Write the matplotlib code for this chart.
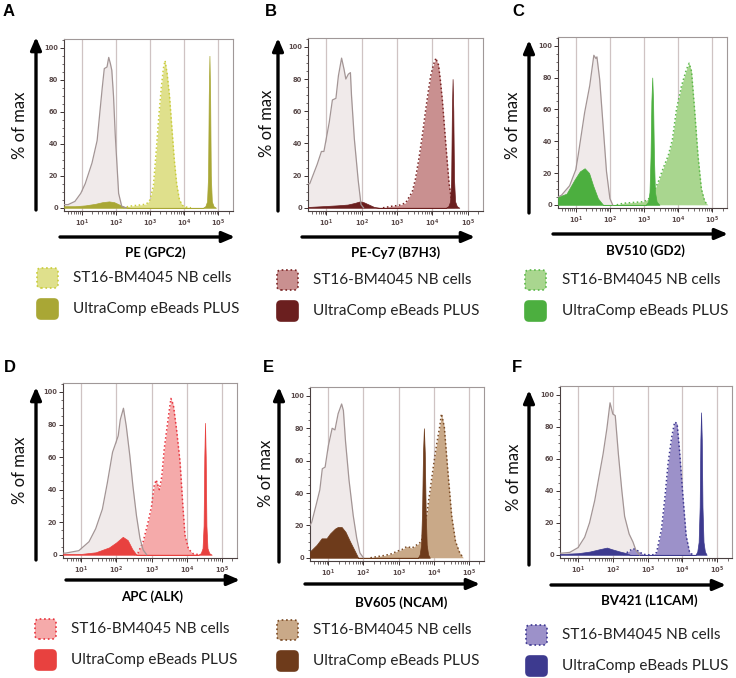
import matplotlib
matplotlib.use('Agg')
import matplotlib.pyplot as plt
import numpy as np
from matplotlib.patches import FancyBboxPatch
from matplotlib.ticker import FixedLocator, MultipleLocator, LogLocator, NullFormatter

W, H = 736, 678

# histogram outlines, x = log10(fluorescence), y = % of max
a_grey_x = [0.48, 0.6, 0.8, 0.97, 1.1, 1.3, 1.45, 1.6, 1.66, 1.74, 1.79, 1.84, 1.88, 1.93, 1.98, 2.08, 2.17, 2.3]
a_grey_y = [2, 2, 4, 9, 15, 28, 42, 75, 87, 88, 94, 90, 86, 70, 46, 9, 1, 0]
a_nb_x = [2.2, 2.4, 2.6, 2.8, 2.9, 3.0, 3.1, 3.18, 3.26, 3.33, 3.39, 3.44, 3.5, 3.57, 3.64, 3.71, 3.78, 3.86, 3.95, 4.05, 4.2]
a_nb_y = [0, 1, 1.5, 2, 2.5, 5, 14, 35, 58, 75, 87, 92, 84, 70, 50, 30, 15, 5, 1.5, 0.5, 0]
a_bead_x = [0.48, 0.8, 1.1, 1.4, 1.6, 1.8, 1.95, 2.1, 2.25, 2.4,
            4.55, 4.62, 4.67, 4.7, 4.72, 4.74, 4.76, 4.78, 4.81, 4.86, 4.93]
a_bead_y = [1, 1, 1.5, 2.5, 3.5, 4, 3.5, 2, 0.5, 0,
            0, 1, 4, 20, 70, 95, 70, 20, 4, 1, 0]

b_grey_x = [0.48, 0.53, 0.74, 0.86, 0.93, 1.08, 1.17, 1.27, 1.34, 1.43, 1.5, 1.55, 1.62, 1.68, 1.71, 1.79, 1.9, 1.98, 2.05]
b_grey_y = [15, 15, 27, 35, 35, 53, 67, 68, 82, 93, 86, 80, 83, 84, 70, 43, 17, 2, 0]
b_nb_x = [2.6, 2.86, 3.05, 3.24, 3.43, 3.52, 3.62, 3.72, 3.81, 3.88, 3.95, 4.03, 4.1, 4.14, 4.17, 4.22, 4.28, 4.38, 4.47, 4.55, 4.62]
b_nb_y = [0, 1, 1.5, 3, 10, 18, 31, 46, 61, 72, 82, 89, 93, 90, 89, 80, 67, 39, 15, 3, 0]
b_bead_x = [0.48, 0.9, 1.3, 1.6, 1.8, 1.95, 2.05, 2.2, 2.35, 2.5,
            4.38, 4.45, 4.5, 4.53, 4.55, 4.57, 4.59, 4.61, 4.64, 4.69, 4.76]
b_bead_y = [0.5, 1, 1.5, 2, 3, 4, 3.5, 2, 0.5, 0,
            0, 1, 4, 18, 60, 80, 60, 18, 4, 1, 0]

c_grey_x = [0.48, 0.58, 0.82, 1.0, 1.07, 1.26, 1.41, 1.53, 1.59, 1.62, 1.7, 1.8, 1.9, 2.0, 2.08]
c_grey_y = [5, 6, 12, 22, 31, 58, 75, 94, 92, 93, 79, 50, 21, 4, 0]
c_nb_x = [2.2, 2.4, 2.7, 3.0, 3.15, 3.27, 3.41, 3.56, 3.71, 3.83, 3.95, 4.1, 4.24, 4.32, 4.39, 4.48, 4.58, 4.68, 4.78, 4.87]
c_nb_y = [0, 1, 1.5, 2, 4, 8, 14, 23, 31, 41, 60, 75, 85, 89, 84, 60, 31, 10, 2, 0]
c_bead_x = [0.48, 0.73, 0.97, 1.12, 1.26, 1.39, 1.51, 1.65, 1.8,
            3.05, 3.12, 3.16, 3.19, 3.215, 3.24, 3.265, 3.29, 3.32, 3.37, 3.45]
c_bead_y = [5, 7, 16, 21, 23, 20, 12, 4, 0,
            0, 2, 8, 30, 65, 80, 65, 30, 8, 2, 0]

d_grey_x = [0.48, 0.55, 0.93, 1.22, 1.41, 1.6, 1.74, 1.89, 2.05, 2.11, 2.2, 2.28, 2.38, 2.47, 2.57, 2.67, 2.76, 2.86]
d_grey_y = [1, 1, 2.5, 8, 16, 28, 44, 63, 73, 83, 90, 79, 61, 42, 24, 10, 3, 0]
d_nb_x = [2.5, 2.61, 2.76, 2.9, 3.0, 3.07, 3.13, 3.22, 3.29, 3.36, 3.48, 3.55, 3.62, 3.71, 3.81, 3.89, 3.95, 4.05, 4.19, 4.38]
d_nb_y = [0, 1, 8, 20, 30, 42, 46, 40, 48, 65, 85, 96, 92, 77, 57, 30, 12, 3.5, 0.5, 0]
d_bead_x = [0.48, 1.0, 1.41, 1.79, 1.99, 2.18, 2.32, 2.45, 2.57,
            4.33, 4.4, 4.45, 4.48, 4.5, 4.52, 4.54, 4.56, 4.59, 4.64, 4.71]
d_bead_y = [0.5, 0.5, 1.5, 4.5, 7.5, 11, 9, 3.5, 0,
            0, 1, 4, 18, 60, 81, 60, 18, 4, 1, 0]

e_grey_x = [0.48, 0.53, 0.67, 0.76, 0.83, 0.91, 1.0, 1.11, 1.19, 1.28, 1.38, 1.43, 1.49, 1.59, 1.71, 1.81, 1.9, 2.0]
e_grey_y = [20, 22, 34, 42, 55, 56, 69, 80, 79, 89, 95, 91, 72, 48, 26, 12, 3, 0]
e_nb_x = [2.2, 2.33, 2.62, 2.81, 2.95, 3.09, 3.24, 3.38, 3.52, 3.65, 3.81, 3.91, 4.0, 4.09, 4.17, 4.22, 4.3, 4.4, 4.51, 4.62, 4.74, 4.84]
e_nb_y = [0, 0.5, 1.5, 2.5, 4, 5, 7, 6, 8, 10, 28, 44, 58, 71, 81, 89, 81, 54, 26, 10, 3, 0]
e_bead_x = [0.48, 0.53, 0.67, 0.81, 0.95, 1.05, 1.19, 1.27, 1.38, 1.49, 1.62, 1.76, 1.85,
            3.55, 3.6, 3.64, 3.67, 3.695, 3.72, 3.745, 3.77, 3.8, 3.84, 3.89]
e_bead_y = [4, 5, 8, 12, 12, 15, 18, 19, 19, 16, 10, 4, 0,
            0, 2, 8, 30, 65, 80, 65, 30, 8, 2, 0]

f_grey_x = [0.48, 0.52, 0.76, 1.0, 1.19, 1.33, 1.48, 1.62, 1.72, 1.83, 1.92, 2.0, 2.07, 2.16, 2.26, 2.34, 2.47, 2.58, 2.67, 2.77]
f_grey_y = [1, 1, 1.5, 4.5, 11, 20, 34, 51, 63, 79, 95, 88, 87, 63, 40, 24, 13, 8, 2.5, 0]
f_nb_x = [2.3, 2.45, 2.58, 2.72, 2.86, 2.97, 3.15, 3.26, 3.4, 3.5, 3.59, 3.69, 3.78, 3.85, 3.92, 4.02, 4.11, 4.21, 4.3]
f_nb_y = [0, 2, 4, 2.5, 0.5, 0, 0, 1.5, 16, 36, 57, 73, 83, 82, 65, 36, 12, 1.5, 0]
f_bead_x = [0.48, 1.0, 1.33, 1.62, 1.83, 1.97, 2.21, 2.4, 2.5,
            4.38, 4.43, 4.47, 4.5, 4.52, 4.54, 4.56, 4.58, 4.61, 4.65, 4.7]
f_bead_y = [0.5, 1, 2, 3.5, 4.5, 3.5, 2, 1, 0,
            0, 2, 8, 30, 72, 89, 72, 30, 8, 2, 0]

letters = ['A', 'B', 'C', 'D', 'E', 'F']
xlabels = ['PE (GPC2)', 'PE-Cy7 (B7H3)', 'BV510 (GD2)', 'APC (ALK)', 'BV605 (NCAM)', 'BV421 (L1CAM)']
legend_labels = ['ST16-BM4045 NB cells', 'UltraComp eBeads PLUS']
nb_fill = ['#dfe08c', '#c99090', '#a9d68f', '#f5aaaa', '#c9a988', '#9c91c9']
nb_edge = ['#c9cc3a', '#7a2424', '#5cb84a', '#e8323c', '#7a4a24', '#3b3690']
bead_col = ['#a9a735', '#6b1f1f', '#4caf3f', '#e8413f', '#6e3b1b', '#3d3a8f']

panels = [
    (a_grey_x, a_grey_y, a_nb_x, a_nb_y, a_bead_x, a_bead_y),
    (b_grey_x, b_grey_y, b_nb_x, b_nb_y, b_bead_x, b_bead_y),
    (c_grey_x, c_grey_y, c_nb_x, c_nb_y, c_bead_x, c_bead_y),
    (d_grey_x, d_grey_y, d_nb_x, d_nb_y, d_bead_x, d_bead_y),
    (e_grey_x, e_grey_y, e_nb_x, e_nb_y, e_bead_x, e_bead_y),
    (f_grey_x, f_grey_y, f_nb_x, f_nb_y, f_bead_x, f_bead_y),
]

# layout in pixels (from top-left)
frames = [(64, 39, 233, 211), (308, 38, 483, 211), (558, 37, 727, 208),
          (63, 383, 237, 558), (310, 387, 484, 561), (560, 386, 732, 558)]
vert_arrows = [(36, 210, 37), (278, 211, 38), (529, 213, 40),
               (36, 560, 387), (279, 562, 387), (529, 565, 390)]
horiz_arrows = [(60, 235, 237), (302, 475, 237), (553, 728, 234),
                (66, 240, 580), (305, 480, 584), (551, 726, 585)]
xlabel_pos = [(155, 253), (396, 253), (645, 251), (152, 597), (401, 603), (649, 601)]
ylabel_pos = [(20, 125), (267, 123), (513, 125), (20, 470), (266, 473), (514, 477)]
letter_pos = [(3, 11), (265, 11), (512, 11), (4, 368), (263, 368), (512, 368)]
legend_pos = [(37, 268, 73), (277, 270, 313), (525, 270, 562),
              (35, 619, 71), (277, 620, 313), (526, 625, 562)]

fig = plt.figure(figsize=(W / 100, H / 100), dpi=100)

for i, (gx, gy, nx, ny, bx, by) in enumerate(panels):
    l, t, r, b = frames[i]
    ax = fig.add_axes([l / W, 1 - b / H, (r - l) / W, (b - t) / H])
    gx = 10 ** np.array(gx)
    nx = 10 ** np.array(nx)
    bx = 10 ** np.array(bx)
    ax.fill_between(gx, gy, color='#f0eaea', lw=0, zorder=1)
    ax.fill_between(nx, ny, color=nb_fill[i], lw=0, zorder=2)
    ax.plot(nx, ny, color=nb_edge[i], lw=1.1, ls=':', zorder=3)
    ax.fill_between(bx, by, color=bead_col[i], lw=0.5, edgecolor=bead_col[i], zorder=4)
    ax.plot(gx, gy, color='#a39595', lw=0.9, zorder=5)
    ax.set_xscale('log')
    ax.set_xlim(10 ** 0.48, 10 ** 5.43)
    ax.set_ylim(-2, 105.5)
    for d in [1e1, 1e2, 1e3, 1e4, 1e5]:
        ax.axvline(d, color='#cfc3c3', lw=0.9, zorder=0.5)
    ax.xaxis.set_major_locator(FixedLocator([1e1, 1e2, 1e3, 1e4, 1e5]))
    ax.xaxis.set_minor_locator(LogLocator(base=10, subs=np.arange(2, 10), numticks=20))
    ax.xaxis.set_minor_formatter(NullFormatter())
    ax.set_yticks([0, 20, 40, 60, 80, 100])
    ax.yaxis.set_minor_locator(MultipleLocator(5))
    ax.tick_params(axis='both', which='major', labelsize=4.8, length=3, width=0.7,
                   colors='#3a3030', labelcolor='#5a4a4a', pad=1.5)
    ax.tick_params(axis='both', which='minor', length=1.8, width=0.5, colors='#3a3030')
    for lab in ax.get_xticklabels() + ax.get_yticklabels():
        lab.set_fontweight('bold')
    for s in ['top', 'right']:
        ax.spines[s].set_color('#a09898')
        ax.spines[s].set_linewidth(0.8)
    for s in ['left', 'bottom']:
        ax.spines[s].set_color('#4a4040')
        ax.spines[s].set_linewidth(0.8)

    # big arrows
    x, y0, y1 = vert_arrows[i]
    fig.add_artist(plt.Annotation('', xy=(x, H - y1), xytext=(x, H - y0), xycoords='figure pixels',
                                  arrowprops=dict(arrowstyle='-|>,head_length=0.75,head_width=0.32',
                                                  color='black', lw=2.4, shrinkA=0, shrinkB=0)))
    x0, x1, y = horiz_arrows[i]
    fig.add_artist(plt.Annotation('', xy=(x1, H - y), xytext=(x0, H - y), xycoords='figure pixels',
                                  arrowprops=dict(arrowstyle='-|>,head_length=0.75,head_width=0.32',
                                                  color='black', lw=2.4, shrinkA=0, shrinkB=0)))

    # labels
    x, y = xlabel_pos[i]
    fig.text(x / W, 1 - y / H, xlabels[i], ha='center', va='center', fontsize=9.5,
             fontweight='bold', family='Lato')
    x, y = ylabel_pos[i]
    fig.text(x / W, 1 - y / H, '% of max', ha='center', va='center', rotation=90,
             fontsize=12, family='Lato', color='#111111')
    x, y = letter_pos[i]
    fig.text(x / W, 1 - y / H, letters[i], ha='left', va='center', fontsize=12,
             fontweight='bold', family='Liberation Sans')

    # legend boxes
    bxp, byp, tx = legend_pos[i]
    for k in range(2):
        top = byp + k * 31
        if k == 0:
            fc, ec, ls = nb_fill[i], nb_edge[i], ':'
        else:
            fc, ec, ls = bead_col[i], bead_col[i], '-'
        patch = FancyBboxPatch((bxp / 100, (H - top - 20) / 100), 0.21, 0.20,
                               boxstyle='round,pad=0,rounding_size=0.04',
                               transform=fig.dpi_scale_trans, facecolor=fc,
                               edgecolor=ec, linestyle=ls, lw=1.2)
        fig.patches.append(patch)
        fig.text(tx / W, 1 - (top + 10) / H, legend_labels[k], ha='left', va='center',
                 fontsize=11, family='Lato', color='#222222')

plt.savefig('out.png', dpi=100)
